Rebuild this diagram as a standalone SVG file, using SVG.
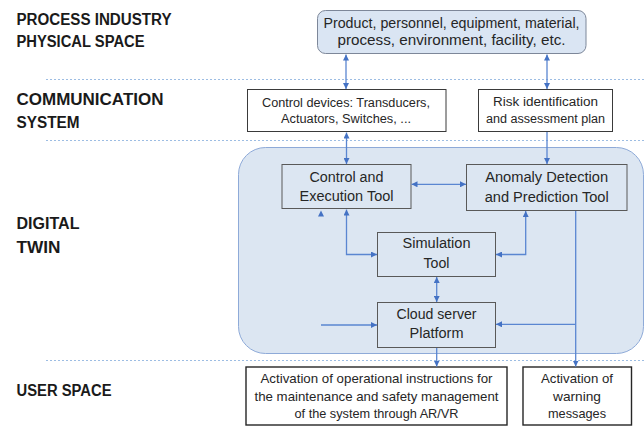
<svg xmlns="http://www.w3.org/2000/svg" width="644" height="437" viewBox="0 0 644 437">
<style>
.lbl{font-family:"Liberation Sans",Arial,sans-serif;font-weight:bold;font-size:16px;fill:#1a1a1a}
.t{font-family:"Liberation Sans",Arial,sans-serif;fill:#262626;text-anchor:middle}
.s12{font-size:12.5px}
.s13{font-size:13px}
.s14{font-size:14px}
.dot{stroke:#9dbde3;stroke-width:1;stroke-dasharray:2 2;fill:none}
.wbox{fill:#ffffff;stroke:#3a3a3a;stroke-width:1}
.ubox{fill:#ffffff;stroke:#262626;stroke-width:1.4}
.dbox{fill:#dce6f2;stroke:#595959;stroke-width:1}
.c{fill:none;stroke:#5a86d1;stroke-width:1.3}
</style>
<defs>
<marker id="ah" viewBox="0 0 6 6" refX="6" refY="3" markerWidth="6" markerHeight="6" markerUnits="userSpaceOnUse" orient="auto-start-reverse">
<path d="M0,0 L6,3 L0,6 z" fill="#4472c4"/>
</marker>
</defs>
<rect width="644" height="437" fill="#ffffff"/>
<g id="separators">
<line class="dot" x1="46" y1="79.5" x2="644" y2="79.5"/>
<line class="dot" x1="46" y1="140.5" x2="644" y2="140.5"/>
<line class="dot" x1="46" y1="360.5" x2="644" y2="360.5"/>
</g>
<g id="layer-labels">
<text class="lbl" x="16.5" y="25" textLength="155" lengthAdjust="spacingAndGlyphs">PROCESS INDUSTRY</text>
<text class="lbl" x="16.5" y="47.3" textLength="128" lengthAdjust="spacingAndGlyphs">PHYSICAL SPACE</text>
<text class="lbl" x="16.5" y="105" textLength="147" lengthAdjust="spacingAndGlyphs">COMMUNICATION</text>
<text class="lbl" x="16.5" y="128.3" textLength="63" lengthAdjust="spacingAndGlyphs">SYSTEM</text>
<text class="lbl" x="16.5" y="229.3" textLength="63" lengthAdjust="spacingAndGlyphs">DIGITAL</text>
<text class="lbl" x="16.5" y="252.7" textLength="44" lengthAdjust="spacingAndGlyphs">TWIN</text>
<text class="lbl" x="16.5" y="396" textLength="95" lengthAdjust="spacingAndGlyphs">USER SPACE</text>
</g>
<g id="digital-twin">
<rect x="238.5" y="147.5" width="405" height="206" rx="27" ry="27" fill="#dce6f2" stroke="#8eaad8" stroke-width="1"/>
</g>
<g id="physical">
<rect x="317.5" y="10.5" width="268.5" height="43" rx="8" ry="8" fill="#dae5f3" stroke="#7d8799" stroke-width="1"/>
<text class="t s14" x="451.5" y="28.3" textLength="256" lengthAdjust="spacingAndGlyphs">Product, personnel, equipment, material,</text>
<text class="t s14" x="451.5" y="45" textLength="228" lengthAdjust="spacingAndGlyphs">process, environment, facility, etc.</text>
</g>
<g id="control-devices">
<rect class="wbox" x="247.5" y="89.5" width="198.5" height="42"/>
<text class="t s12" x="346" y="106.5" textLength="168" lengthAdjust="spacingAndGlyphs">Control devices: Transducers,</text>
<text class="t s12" x="346" y="123" textLength="130" lengthAdjust="spacingAndGlyphs">Actuators, Switches, ...</text>
</g>
<g id="risk">
<rect class="wbox" x="478.5" y="89.5" width="134" height="42"/>
<text class="t s12" x="545.5" y="106" textLength="105" lengthAdjust="spacingAndGlyphs">Risk identification</text>
<text class="t s12" x="545.5" y="122.5" textLength="119" lengthAdjust="spacingAndGlyphs">and assessment plan</text>
</g>
<g id="control-execution">
<rect class="dbox" x="282" y="164.5" width="129" height="44"/>
<text class="t s14" x="346.5" y="181.5" textLength="74" lengthAdjust="spacingAndGlyphs">Control and</text>
<text class="t s14" x="346.5" y="201" textLength="94" lengthAdjust="spacingAndGlyphs">Execution Tool</text>
</g>
<g id="anomaly">
<rect class="dbox" x="466.5" y="164.5" width="160.5" height="46"/>
<text class="t s14" x="546.7" y="182" textLength="123" lengthAdjust="spacingAndGlyphs">Anomaly Detection</text>
<text class="t s14" x="546.7" y="201.5" textLength="124" lengthAdjust="spacingAndGlyphs">and Prediction Tool</text>
</g>
<g id="simulation">
<rect class="dbox" x="377.5" y="232.5" width="118" height="44"/>
<text class="t s14" x="436.5" y="248" textLength="68" lengthAdjust="spacingAndGlyphs">Simulation</text>
<text class="t s14" x="436.5" y="268" textLength="26" lengthAdjust="spacingAndGlyphs">Tool</text>
</g>
<g id="cloud">
<rect class="dbox" x="377.5" y="302.5" width="118" height="45"/>
<text class="t s14" x="436.5" y="319" textLength="80" lengthAdjust="spacingAndGlyphs">Cloud server</text>
<text class="t s14" x="436.5" y="338" textLength="54" lengthAdjust="spacingAndGlyphs">Platform</text>
</g>
<g id="activation-instructions">
<rect class="ubox" x="246" y="367" width="261" height="58"/>
<text class="t s13" x="376.5" y="383" textLength="232" lengthAdjust="spacingAndGlyphs">Activation of operational instructions for</text>
<text class="t s13" x="376.5" y="400.5" textLength="244" lengthAdjust="spacingAndGlyphs">the maintenance and safety management</text>
<text class="t s13" x="376.5" y="418" textLength="164" lengthAdjust="spacingAndGlyphs">of the system through AR/VR</text>
</g>
<g id="warning">
<rect class="ubox" x="523" y="367" width="108.5" height="58"/>
<text class="t s13" x="577" y="383" textLength="72" lengthAdjust="spacingAndGlyphs">Activation of</text>
<text class="t s13" x="577" y="400.5" textLength="48" lengthAdjust="spacingAndGlyphs">warning</text>
<text class="t s13" x="577" y="418" textLength="58" lengthAdjust="spacingAndGlyphs">messages</text>
</g>
<g id="connectors">
<line class="c" x1="346" y1="54.5" x2="346" y2="89" marker-start="url(#ah)" marker-end="url(#ah)"/>
<line class="c" x1="547" y1="54.5" x2="547" y2="89" marker-start="url(#ah)" marker-end="url(#ah)"/>
<line class="c" x1="346.5" y1="132.5" x2="346.5" y2="164" marker-start="url(#ah)" marker-end="url(#ah)"/>
<line class="c" x1="547" y1="132" x2="547" y2="164" marker-end="url(#ah)"/>
<line class="c" x1="411.5" y1="184.3" x2="466" y2="184.3" marker-start="url(#ah)" marker-end="url(#ah)"/>
<polyline class="c" points="346.5,209.5 346.5,254.5 377,254.5" marker-start="url(#ah)" marker-end="url(#ah)"/>
<polyline class="c" points="525.7,211 525.7,254.5 496,254.5" marker-start="url(#ah)" marker-end="url(#ah)"/>
<line class="c" x1="436.7" y1="277" x2="436.7" y2="302" marker-start="url(#ah)" marker-end="url(#ah)"/>
<line class="c" x1="321" y1="325" x2="377" y2="325" marker-end="url(#ah)"/>
<line class="c" x1="575.7" y1="211" x2="575.7" y2="366.5" marker-end="url(#ah)"/>
<line class="c" x1="575.7" y1="324.3" x2="496" y2="324.3" marker-end="url(#ah)"/>
<line class="c" x1="436.7" y1="348" x2="436.7" y2="366.5" marker-end="url(#ah)"/>
<path d="M318,216.5 L321,210.5 L324,216.5 z" fill="#4472c4"/>
</g>
</svg>
